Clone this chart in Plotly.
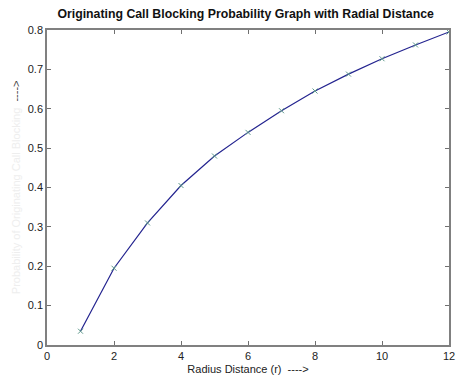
import plotly.graph_objects as go

radius = [1, 2, 3, 4, 5, 6, 7, 8, 9, 10, 11, 12]
blocking = [0.035, 0.195, 0.31, 0.405, 0.48, 0.54, 0.595, 0.645, 0.688, 0.727, 0.762, 0.795]
x_ticks = [0, 2, 4, 6, 8, 10, 12]
y_ticks = [0, 0.1, 0.2, 0.3, 0.4, 0.5, 0.6, 0.7, 0.8]
y_tick_labels = ["0", "0.1", "0.2", "0.3", "0.4", "0.5", "0.6", "0.7", "0.8"]

FONT = "Liberation Sans, Arial, sans-serif"

fig = go.Figure()
fig.add_trace(go.Scatter(
    x=radius, y=blocking, mode="lines",
    line=dict(color="#23238f", width=1.2),
    showlegend=False, hoverinfo="skip"))
fig.add_trace(go.Scatter(
    x=radius, y=blocking, mode="markers",
    marker=dict(symbol="x-thin-open", size=5, color="#5f9a8c", line=dict(color="#5f9a8c", width=1)),
    showlegend=False))

axis_common = dict(
    showgrid=False, zeroline=False, showline=True, linecolor="#808080", linewidth=1.5,
    mirror="ticks", ticks="inside", ticklen=4, tickcolor="#707070", automargin=False,
    tickfont=dict(family=FONT, size=11, color="#222"),
)

fig.update_xaxes(range=[0, 12], tickvals=x_ticks, ticktext=[str(v) for v in x_ticks],
                 title=dict(text="Radius Distance (r)  ---->",
                            font=dict(family=FONT, size=11, color="#222"),
                            standoff=4),
                 **axis_common)
fig.update_yaxes(range=[0, 0.8], tickvals=y_ticks, ticktext=y_tick_labels,
                 **axis_common)

fig.update_layout(
    width=457, height=376,
    margin=dict(l=39, r=16, t=22, b=39),
    paper_bgcolor="white", plot_bgcolor="white",
    title=dict(text="<b>Originating Call Blocking Probability Graph with Radial Distance</b>",
               font=dict(family=FONT, size=12.3, color="#111"),
               x=0.52, xanchor="center", y=0.986, yanchor="middle"),
    annotations=[dict(
        text="<span style='color:#eeeeee'>Probability of Originating Call Blocking</span>  ---->",
        xref="paper", yref="paper", x=-0.078, y=0.5, xanchor="center", yanchor="middle",
        textangle=-90, showarrow=False,
        font=dict(family=FONT, size=11, color="#444"))],
)

fig.write_html("out.html")
